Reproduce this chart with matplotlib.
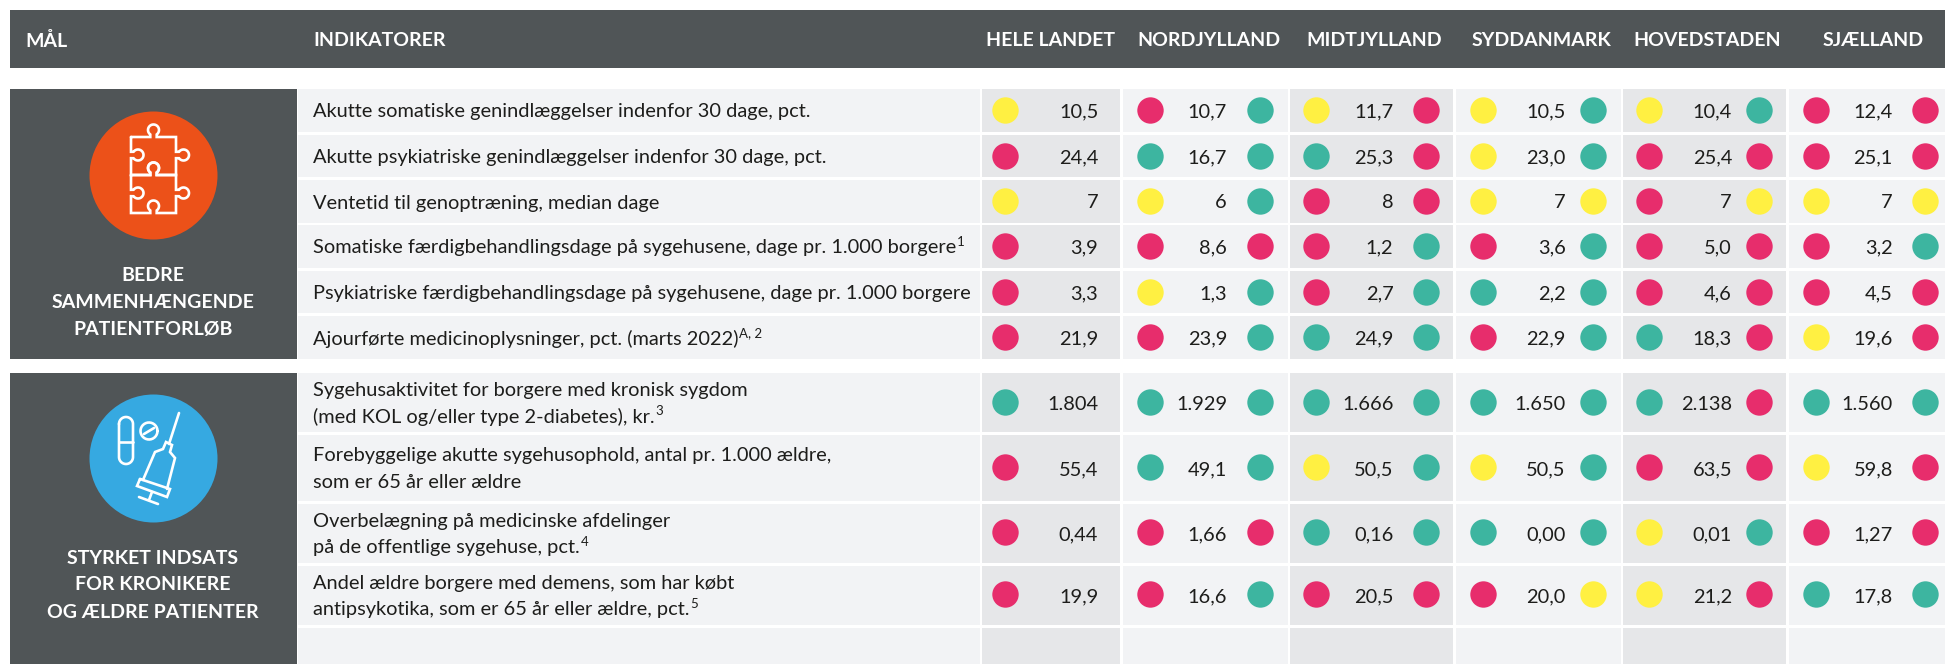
import numpy as np
import matplotlib
matplotlib.use("Agg")
import matplotlib.pyplot as plt
import matplotlib.patches as mpatches

plt.rcParams["font.family"] = ["Lato", "DejaVu Sans"]

# ── DATA ──────────────────────────────────────────────────────
REGIONS = ["HELE LANDET", "NORDJYLLAND", "MIDTJYLLAND", "SYDDANMARK", "HOVEDSTADEN", "SJÆLLAND"]

GROUP_1_LABEL = ["BEDRE", "SAMMENHÆNGENDE", "PATIENTFORLØB"]
GROUP_2_LABEL = ["STYRKET INDSATS", "FOR KRONIKERE", "OG ÆLDRE PATIENTER"]

# (lines, superscript on the last line)
INDICATORS = [
    (["Akutte somatiske genindlæggelser indenfor 30 dage, pct."], ""),
    (["Akutte psykiatriske genindlæggelser indenfor 30 dage, pct."], ""),
    (["Ventetid til genoptræning, median dage"], ""),
    (["Somatiske færdigbehandlingsdage på sygehusene, dage pr. 1.000 borgere"], "1"),
    (["Psykiatriske færdigbehandlingsdage på sygehusene, dage pr. 1.000 borgere"], ""),
    (["Ajourførte medicinoplysninger, pct. (marts 2022)"], "A, 2"),
    (["Sygehusaktivitet for borgere med kronisk sygdom", "(med KOL og/eller type 2-diabetes), kr."], "3"),
    (["Forebyggelige akutte sygehusophold, antal pr. 1.000 ældre,", "som er 65 år eller ældre"], ""),
    (["Overbelægning på medicinske afdelinger", "på de offentlige sygehuse, pct."], "4"),
    (["Andel ældre borgere med demens, som har købt", "antipsykotika, som er 65 år eller ældre, pct."], "5"),
]

VALUES = [
    ["10,5", "24,4", "7", "3,9", "3,3", "21,9", "1.804", "55,4", "0,44", "19,9"],
    ["10,7", "16,7", "6", "8,6", "1,3", "23,9", "1.929", "49,1", "1,66", "16,6"],
    ["11,7", "25,3", "8", "1,2", "2,7", "24,9", "1.666", "50,5", "0,16", "20,5"],
    ["10,5", "23,0", "7", "3,6", "2,2", "22,9", "1.650", "50,5", "0,00", "20,0"],
    ["10,4", "25,4", "7", "5,0", "4,6", "18,3", "2.138", "63,5", "0,01", "21,2"],
    ["12,4", "25,1", "7", "3,2", "4,5", "19,6", "1.560", "59,8", "1,27", "17,8"],
]

# status letters: Y yellow, P pink, T teal
LEFT_DOTS = ["YPYPPPTPPP", "PTYPYPTTPP", "YTPPPTTYTP", "YYYPTPTYTP", "YPPPPTTPYY", "PPYPPYTYPT"]
RIGHT_DOTS = ["", "TTTPTTTTPT", "PPPTTTTTTP", "TTYTTTTTTY", "TPYPPPPPTP", "PPYTPPTPPT"]

# ── LAYOUT (pixels of the 1945x664 picture) ───────────────────
ROW_TOP = [89, 135, 180, 225, 271, 316, 373, 435, 503.5, 565.5, 627.5]
ROW_BOT = [132, 177, 223, 268, 313, 359, 432, 501, 563, 625, 664]
COL_LEFT = [982, 1122.7, 1289.8, 1456.3, 1622.7, 1788.6]
COL_RIGHT = [1120.2, 1287.9, 1453, 1620.8, 1786, 1945]
HEAD_X = [1051, 1208.8, 1374.6, 1541, 1707.5, 1873.3]
VALUE_X = [1098.2, 1227, 1393.4, 1565.6, 1732, 1892.8]
DOT_L_X = [1004.6, 1150.3, 1316.2, 1482.6, 1649, 1815.6]
DOT_R_X = [None, 1259.6, 1426, 1592.6, 1759, 1924.9]

DARK = "#505557"
ROW_BG = "#F2F3F5"
ALT_BG = "#E6E7E9"
TEXT = "#1D1D1B"
DOT_COLORS = {"Y": "#FFF042", "P": "#E72D6C", "T": "#3DB5A0"}
ORANGE = "#EC5119"
BLUE = "#36A9E1"

BODY_FS = 14.4
HEAD_FS = 14.0
VALUE_FS = 14.4

fig = plt.figure(figsize=(19.45, 6.64), dpi=100, facecolor="white")
ax = fig.add_axes([0, 0, 1, 1])
ax.set_xlim(0, 1945)
ax.set_ylim(664, 0)
ax.axis("off")


def box(x0, y0, x1, y1, color):
    ax.add_patch(mpatches.Rectangle((x0, y0), x1 - x0, y1 - y0, facecolor=color, edgecolor="none", zorder=1))


def line_with_sup(x, y, label, sup):
    t = ax.text(x, y, label, ha="left", va="center", fontsize=BODY_FS, color=TEXT, zorder=3)
    if sup:
        ext = t.get_window_extent(fig.canvas.get_renderer())
        ax.text(ext.x1 + 1, y - 6, sup, ha="left", va="center", fontsize=9.5, color=TEXT, zorder=3)


def arc(cx, cy, r, a0, a1, n=30):
    a = np.radians(np.linspace(a0, a1, n))
    return np.column_stack([cx + r * np.cos(a), cy - r * np.sin(a)])


def stroke(points, lw=1.9):
    points = np.asarray(points)
    ax.plot(points[:, 0], points[:, 1], color="white", lw=lw, zorder=4,
            solid_capstyle="round", solid_joinstyle="miter")


def puzzle_piece(top):
    # one piece outline, clockwise from the top left corner
    r = 5.5
    pts = [[131, top], [150.3, top]]
    pts += arc(153.5, top - 7, r, 234, -54).tolist()
    pts += [[156.7, top], [176, top], [176, top + 14.8]]
    pts += arc(183.5, top + 18, r, 144, -144).tolist()
    pts += [[176, top + 21.2], [176, top + 38], [156.7, top + 38]]
    pts += arc(153.5, top + 31, r, -54, 234).tolist()
    pts += [[150.3, top + 38], [131, top + 38], [131, top + 21.2]]
    pts += arc(138, top + 18, r, -144, 144).tolist()
    pts += [[131, top + 14.8], [131, top]]
    stroke(pts)


def draw_puzzle():
    ax.scatter([153], [175], s=(128 * 0.72) ** 2, color=ORANGE, linewidths=0, zorder=3)
    puzzle_piece(137)
    puzzle_piece(175)


def draw_syringe():
    ax.scatter([153], [458], s=(128 * 0.72) ** 2, color=BLUE, linewidths=0, zorder=3)
    # capsule
    pill = arc(126, 424, 7, 180, 0).tolist() + arc(126, 457, 7, 0, -180).tolist()
    stroke(pill + [pill[0]])
    stroke([[119, 442], [133, 442]])
    # tablet
    stroke(arc(149, 431, 8.5, 0, 360))
    stroke([[144, 434], [154, 428]])
    # syringe
    stroke([[179, 413], [169, 444]])
    stroke([[143, 480], [155, 452], [163, 449], [166, 442], [172, 445], [170, 452], [175, 458], [167, 489]])
    stroke([[140, 479], [137, 486], [167, 497], [170, 489], [140, 479]])
    stroke([[152, 492], [149, 500]])
    stroke([[139, 497], [158, 504]])


# ── HEADER ────────────────────────────────────────────────────
box(10, 10, 1945, 68, DARK)
ax.text(25, 41, "MÅL", color="white", fontsize=HEAD_FS, fontweight="bold", ha="left", va="center", zorder=3)
ax.text(313, 41, "INDIKATORER", color="white", fontsize=HEAD_FS, fontweight="bold", ha="left", va="center", zorder=3)
for name, x in zip(REGIONS, HEAD_X):
    ax.text(x, 41, name, color="white", fontsize=HEAD_FS, fontweight="bold", ha="center", va="center", zorder=3)

# ── GROUP BOXES ───────────────────────────────────────────────
box(10, 89, 297, 359, DARK)
box(10, 373, 297, 664, DARK)
draw_puzzle()
draw_syringe()
for lab, y in zip(GROUP_1_LABEL, [275.5, 302, 329]):
    ax.text(153, y, lab, color="white", fontsize=HEAD_FS, fontweight="bold", ha="center", va="center", zorder=3)
for lab, y in zip(GROUP_2_LABEL, [558, 585, 612]):
    ax.text(153, y, lab, color="white", fontsize=HEAD_FS, fontweight="bold", ha="center", va="center", zorder=3)

# ── ROWS ──────────────────────────────────────────────────────
for i, (top, bot) in enumerate(zip(ROW_TOP, ROW_BOT)):
    box(298, top, 980, bot, ROW_BG)
    for c in range(len(REGIONS)):
        box(COL_LEFT[c], top, COL_RIGHT[c], bot, ALT_BG if c % 2 == 0 else ROW_BG)

for i, (lines, sup) in enumerate(INDICATORS):
    mid = (ROW_TOP[i] + ROW_BOT[i]) / 2
    dot_y = mid - 1 if len(lines) > 1 else mid - 0.5
    if len(lines) == 1:
        line_with_sup(313, mid + 1.5, lines[0], sup)
    else:
        ax.text(313, mid - 12, lines[0], ha="left", va="center", fontsize=BODY_FS, color=TEXT, zorder=3)
        line_with_sup(313, mid + 14.5, lines[1], sup)

    for c in range(len(REGIONS)):
        ax.text(VALUE_X[c], mid + 1.5, VALUES[c][i], ha="right", va="center", fontsize=VALUE_FS, color=TEXT, zorder=3)
        ax.scatter([DOT_L_X[c]], [dot_y], s=(26.4 * 0.72) ** 2,
                   color=DOT_COLORS[LEFT_DOTS[c][i]], linewidths=0, zorder=3)
        if RIGHT_DOTS[c]:
            ax.scatter([DOT_R_X[c]], [dot_y], s=(26.4 * 0.72) ** 2,
                       color=DOT_COLORS[RIGHT_DOTS[c][i]], linewidths=0, zorder=3)

ax.set_xlim(0, 1945)
ax.set_ylim(664, 0)
fig.savefig("out.png", dpi=100, facecolor="white")
